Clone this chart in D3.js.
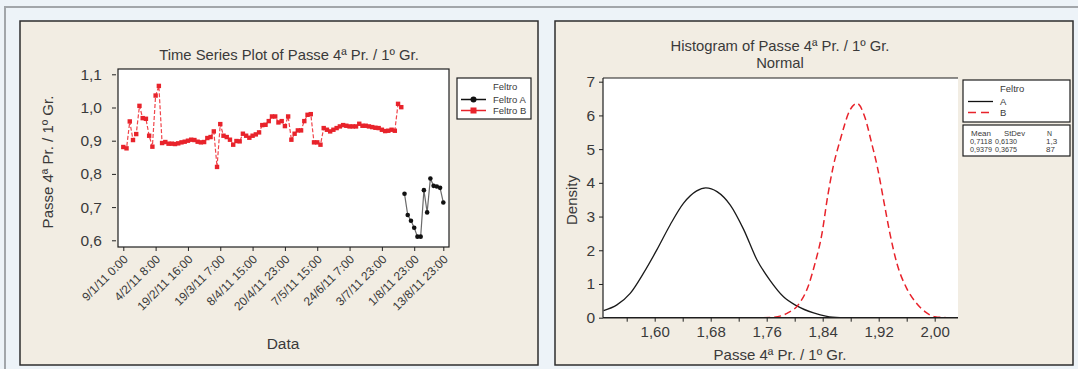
<!DOCTYPE html>
<html>
<head>
<meta charset="utf-8">
<script src="https://cdn.jsdelivr.net/npm/d3@7"></script>
<style>
  body { margin: 0; background: #edf3f8; }
  svg text { font-family: "Liberation Sans", Arial, sans-serif; fill: #3a3a3a; }
</style>
</head>
<body>
<div id="chart"></div>
<script>
  // time series: Feltro B is observations 1..87, Feltro A 88..100
  const feltroB = [0.881, 0.877, 0.958, 0.902, 0.920, 1.005, 0.968, 0.966, 0.915, 0.882, 1.036, 1.065,
    0.893, 0.896, 0.891, 0.891, 0.890, 0.892, 0.895, 0.897, 0.900, 0.903, 0.902, 0.897, 0.895, 0.896, 0.908, 0.911, 0.928, 0.821,
    0.950, 0.915, 0.911, 0.903, 0.888, 0.899, 0.898, 0.921, 0.915, 0.909, 0.915, 0.919, 0.925, 0.947, 0.948, 0.959, 0.973, 0.973, 0.955, 0.959,
    0.944, 0.973, 0.903, 0.921, 0.931, 0.931, 0.959, 0.978, 0.980, 0.895, 0.895, 0.888, 0.938, 0.933, 0.928, 0.933, 0.938, 0.943, 0.947, 0.945,
    0.943, 0.943, 0.943, 0.951, 0.945, 0.945, 0.943, 0.941, 0.939, 0.938, 0.933, 0.929, 0.930, 0.933, 0.930, 1.011, 1.001];
  const feltroA = [0.740, 0.676, 0.659, 0.638, 0.611, 0.611, 0.751, 0.684, 0.786, 0.764, 0.762, 0.758, 0.714];
  const dateTickIndex = [1, 11, 21, 31, 41, 51, 61, 71, 81, 91, 100];
  const dateTickLabels = ["9/1/11 0:00", "4/2/11 8:00", "19/2/11 16:00", "19/3/11 7:00", "8/4/11 15:00",
    "20/4/11 23:00", "7/5/11 15:00", "24/6/11 7:00", "3/7/11 23:00", "1/8/11 23:00", "13/8/11 23:00"];
  const passeTicks = [0.6, 0.7, 0.8, 0.9, 1.0, 1.1];

  // fitted normal curves
  const curveAx = [1.527, 1.546, 1.565, 1.584, 1.603, 1.622, 1.641, 1.660, 1.673, 1.689, 1.708, 1.727, 1.746, 1.765, 1.784, 1.803, 1.827, 1.846, 1.865];
  const curveAy = [0.21, 0.38, 0.72, 1.32, 2.01, 2.75, 3.39, 3.76, 3.85, 3.74, 3.34, 2.62, 1.72, 1.10, 0.62, 0.35, 0.14, 0.04, 0.00];
  const curveBx = [1.755, 1.769, 1.789, 1.805, 1.819, 1.829, 1.839, 1.847, 1.855, 1.865, 1.879, 1.889, 1.900, 1.910, 1.918, 1.927, 1.936, 1.946, 1.960, 1.974, 1.986, 2.000, 2.017];
  const curveBy = [0.00, 0.01, 0.13, 0.38, 0.92, 1.61, 2.50, 3.59, 4.48, 5.27, 6.16, 6.36, 5.96, 5.17, 4.48, 3.49, 2.50, 1.61, 0.87, 0.43, 0.18, 0.03, 0.00];
  const densityTicks = [0, 1, 2, 3, 4, 5, 6, 7];
  const histTicks = [1.56, 1.60, 1.64, 1.68, 1.72, 1.76, 1.80, 1.84, 1.88, 1.92, 1.96, 2.00];
  const histLabelled = [1.60, 1.68, 1.76, 1.84, 1.92, 2.00];
  const statsHeader = ["Mean", "StDev", "N"];
  const statsRows = [["0,7118", "0,6130", "1,3"], ["0,9379", "0,3675", "87"]];

  const redMark = "#e8232b";
  const redLine = "#f0454b";
  const ink = "#3a3a3a";
  const loc = d3.formatLocale({decimal: ",", thousands: ".", grouping: [3], currency: ["", ""]});
  const fmt1 = loc.format(".1f");
  const fmt2 = loc.format(".2f");

  const svg = d3.select("#chart").append("svg")
    .attr("width", 1078)
    .attr("height", 369);

  // page frame
  svg.append("rect").attr("x", 4).attr("y", 6).attr("width", 1074).attr("height", 2).attr("fill", "#a2a6aa");
  svg.append("rect").attr("x", 4).attr("y", 6).attr("width", 2).attr("height", 363).attr("fill", "#a2a6aa");

  [[20, 538], [555, 1073]].forEach(function (p) {
    svg.append("rect")
      .attr("x", p[0]).attr("y", 21)
      .attr("width", p[1] - p[0]).attr("height", 344)
      .attr("fill", "#f2ede3")
      .attr("stroke", "#2e2e2e")
      .attr("stroke-width", 1.5);
  });

  // ---------- left: time series ----------
  const xTs = d3.scaleLinear().domain([1, 100]).range([123.3, 443.3]);
  const yTs = d3.scaleLinear().domain([0.6, 1.1]).range([240.3, 74.3]);

  svg.append("rect")
    .attr("x", 118).attr("y", 69)
    .attr("width", 331).attr("height", 178)
    .attr("fill", "#fff")
    .attr("stroke", "#1e1e1e")
    .attr("stroke-width", 1.2);

  const yAx = svg.append("g")
    .attr("transform", "translate(116,0)")
    .call(d3.axisLeft(yTs).tickValues(passeTicks).tickSize(4).tickPadding(10).tickFormat(fmt1));
  yAx.select(".domain").remove();
  yAx.selectAll("line").attr("stroke", "#222");
  yAx.selectAll("text").attr("font-size", 15.5).style("fill", ink);

  const xAx = svg.append("g")
    .attr("transform", "translate(0,247)")
    .call(d3.axisBottom(xTs).tickValues(dateTickIndex).tickSize(4)
      .tickFormat(function (d, i) { return dateTickLabels[i]; }));
  xAx.select(".domain").remove();
  xAx.selectAll("line").attr("stroke", "#222");
  xAx.selectAll("text")
    .attr("font-size", 12)
    .style("fill", ink)
    .attr("text-anchor", "end")
    .attr("x", 0).attr("y", 0).attr("dy", "0.35em")
    .attr("transform", "translate(2,10) rotate(-45)");

  const lineTs = d3.line()
    .x(function (d) { return xTs(d.i); })
    .y(function (d) { return yTs(d.v); });

  const ptsB = feltroB.map(function (v, k) { return {i: k + 1, v: v}; });
  const ptsA = feltroA.map(function (v, k) { return {i: feltroB.length + k + 1, v: v}; });

  svg.append("path")
    .attr("d", lineTs(ptsB))
    .attr("fill", "none")
    .attr("stroke", redLine)
    .attr("stroke-width", 1.2)
    .attr("stroke-dasharray", "4,2");
  svg.append("g").selectAll("rect")
    .data(ptsB).enter().append("rect")
    .attr("x", function (d) { return xTs(d.i) - 2.2; })
    .attr("y", function (d) { return yTs(d.v) - 2.2; })
    .attr("width", 4.4).attr("height", 4.4)
    .attr("fill", redMark);

  svg.append("path")
    .attr("d", lineTs(ptsA))
    .attr("fill", "none")
    .attr("stroke", "#6a6a6a")
    .attr("stroke-width", 1.2);
  svg.append("g").selectAll("circle")
    .data(ptsA).enter().append("circle")
    .attr("cx", function (d) { return xTs(d.i); })
    .attr("cy", function (d) { return yTs(d.v); })
    .attr("r", 2.3)
    .attr("fill", "#111");

  svg.append("text")
    .attr("x", 289).attr("y", 60)
    .attr("text-anchor", "middle")
    .attr("font-size", 14.8)
    .text("Time Series Plot of Passe 4ª Pr. / 1º Gr.");
  svg.append("text")
    .attr("x", 283).attr("y", 349)
    .attr("text-anchor", "middle")
    .attr("font-size", 15.5)
    .text("Data");
  svg.append("text")
    .attr("transform", "translate(53,162) rotate(-90)")
    .attr("text-anchor", "middle")
    .attr("font-size", 15)
    .text("Passe 4ª Pr. / 1º Gr.");

  // legend (left)
  const lg = svg.append("g");
  lg.append("rect")
    .attr("x", 457).attr("y", 78).attr("width", 74).attr("height", 41)
    .attr("fill", "#fff").attr("stroke", "#1e1e1e").attr("stroke-width", 1.2);
  lg.append("text").attr("x", 493).attr("y", 90).attr("font-size", 9.5).text("Feltro");
  lg.append("line").attr("x1", 461).attr("x2", 486).attr("y1", 99.5).attr("y2", 99.5)
    .attr("stroke", "#111").attr("stroke-width", 1.5);
  lg.append("circle").attr("cx", 473.5).attr("cy", 99.5).attr("r", 3).attr("fill", "#111");
  lg.append("text").attr("x", 493).attr("y", 103).attr("font-size", 9.5).text("Feltro A");
  lg.append("line").attr("x1", 461).attr("x2", 486).attr("y1", 110.5).attr("y2", 110.5)
    .attr("stroke", redMark).attr("stroke-width", 1.5);
  lg.append("rect").attr("x", 470.5).attr("y", 107.5).attr("width", 6).attr("height", 6).attr("fill", redMark);
  lg.append("text").attr("x", 493).attr("y", 114).attr("font-size", 9.5).text("Feltro B");

  // ---------- right: fitted normal ----------
  const xH = d3.scaleLinear().domain([1.60, 2.00]).range([654.7, 934.7]);
  const yH = d3.scaleLinear().domain([0, 7]).range([317.7, 81.7]);

  svg.append("rect")
    .attr("x", 603).attr("y", 78)
    .attr("width", 355).attr("height", 240)
    .attr("fill", "#fff");
  svg.append("line").attr("x1", 603).attr("x2", 958).attr("y1", 78).attr("y2", 78)
    .attr("stroke", "#1e1e1e").attr("stroke-width", 1.2);

  svg.append("defs").append("clipPath").attr("id", "hclip")
    .append("rect").attr("x", 603).attr("y", 78).attr("width", 355).attr("height", 240);

  const lineH = d3.line()
    .x(function (d) { return xH(d[0]); })
    .y(function (d) { return yH(d[1]); })
    .curve(d3.curveMonotoneX);

  svg.append("path")
    .attr("clip-path", "url(#hclip)")
    .attr("d", lineH(d3.zip(curveAx, curveAy)))
    .attr("fill", "none")
    .attr("stroke", "#1a1a1a")
    .attr("stroke-width", 1.3);
  svg.append("path")
    .attr("clip-path", "url(#hclip)")
    .attr("d", lineH(d3.zip(curveBx, curveBy)))
    .attr("fill", "none")
    .attr("stroke", redMark)
    .attr("stroke-width", 1.5)
    .attr("stroke-dasharray", "7,4");

  const hy = svg.append("g")
    .attr("transform", "translate(603,0)")
    .call(d3.axisLeft(yH).tickValues(densityTicks).tickSize(4).tickPadding(4).tickFormat(d3.format("d")));
  hy.select(".domain").attr("d", "M0," + yH(0) + "V78").attr("stroke", "#1e1e1e").attr("stroke-width", 1.2);
  hy.selectAll("line").attr("stroke", "#222");
  hy.selectAll("text").attr("font-size", 15.5).style("fill", ink);

  const hx = svg.append("g")
    .attr("transform", "translate(0," + yH(0) + ")")
    .call(d3.axisBottom(xH).tickValues(histTicks).tickSize(4).tickPadding(5)
      .tickFormat(function (d) {
        return histLabelled.some(function (v) { return Math.abs(v - d) < 1e-6; }) ? fmt2(d) : "";
      }));
  hx.select(".domain").attr("d", "M603,0H958").attr("stroke", "#1e1e1e").attr("stroke-width", 1.5);
  hx.selectAll("line").attr("stroke", "#222");
  hx.selectAll("text").attr("font-size", 15).style("fill", ink);

  svg.append("text")
    .attr("x", 780).attr("y", 51)
    .attr("text-anchor", "middle")
    .attr("font-size", 14.8)
    .text("Histogram of Passe 4ª Pr. / 1º Gr.");
  svg.append("text")
    .attr("x", 780).attr("y", 68)
    .attr("text-anchor", "middle")
    .attr("font-size", 14.8)
    .text("Normal");
  svg.append("text")
    .attr("x", 780).attr("y", 360)
    .attr("text-anchor", "middle")
    .attr("font-size", 15)
    .text("Passe 4ª Pr. / 1º Gr.");
  svg.append("text")
    .attr("transform", "translate(577,200) rotate(-90)")
    .attr("text-anchor", "middle")
    .attr("font-size", 15)
    .text("Density");

  // legend + stats table (right)
  const rg = svg.append("g");
  rg.append("rect")
    .attr("x", 963).attr("y", 80).attr("width", 107).attr("height", 42)
    .attr("fill", "#fff").attr("stroke", "#1e1e1e").attr("stroke-width", 1.2);
  rg.append("text").attr("x", 1000).attr("y", 92).attr("font-size", 9.5).text("Feltro");
  rg.append("line").attr("x1", 968).attr("x2", 993).attr("y1", 101.5).attr("y2", 101.5)
    .attr("stroke", "#111").attr("stroke-width", 1.3);
  rg.append("text").attr("x", 1000).attr("y", 105).attr("font-size", 9.5).text("A");
  rg.append("line").attr("x1", 968).attr("x2", 993).attr("y1", 112.5).attr("y2", 112.5)
    .attr("stroke", redMark).attr("stroke-width", 1.3).attr("stroke-dasharray", "8,5");
  rg.append("text").attr("x", 1000).attr("y", 116).attr("font-size", 9.5).text("B");

  rg.append("rect")
    .attr("x", 963).attr("y", 125).attr("width", 107).attr("height", 31)
    .attr("fill", "#fff").attr("stroke", "#1e1e1e").attr("stroke-width", 1.2);
  // the table font is condensed in the original: squeeze each cell to its width
  const colX = [970, 995, 1046];
  const headX = [971, 1004, 1047];
  const headW = [20, 21, 5];
  statsHeader.forEach(function (h, c) {
    rg.append("text").attr("x", headX[c]).attr("y", 135.5).attr("font-size", 8)
      .attr("textLength", headW[c]).attr("lengthAdjust", "spacingAndGlyphs").text(h);
  });
  statsRows.forEach(function (row, r) {
    row.forEach(function (v, c) {
      const t = rg.append("text").attr("x", colX[c]).attr("y", 143.5 + r * 8).attr("font-size", 8).text(v);
      if (v.length > 3) t.attr("textLength", 22).attr("lengthAdjust", "spacingAndGlyphs");
    });
  });
</script>
</body>
</html>
